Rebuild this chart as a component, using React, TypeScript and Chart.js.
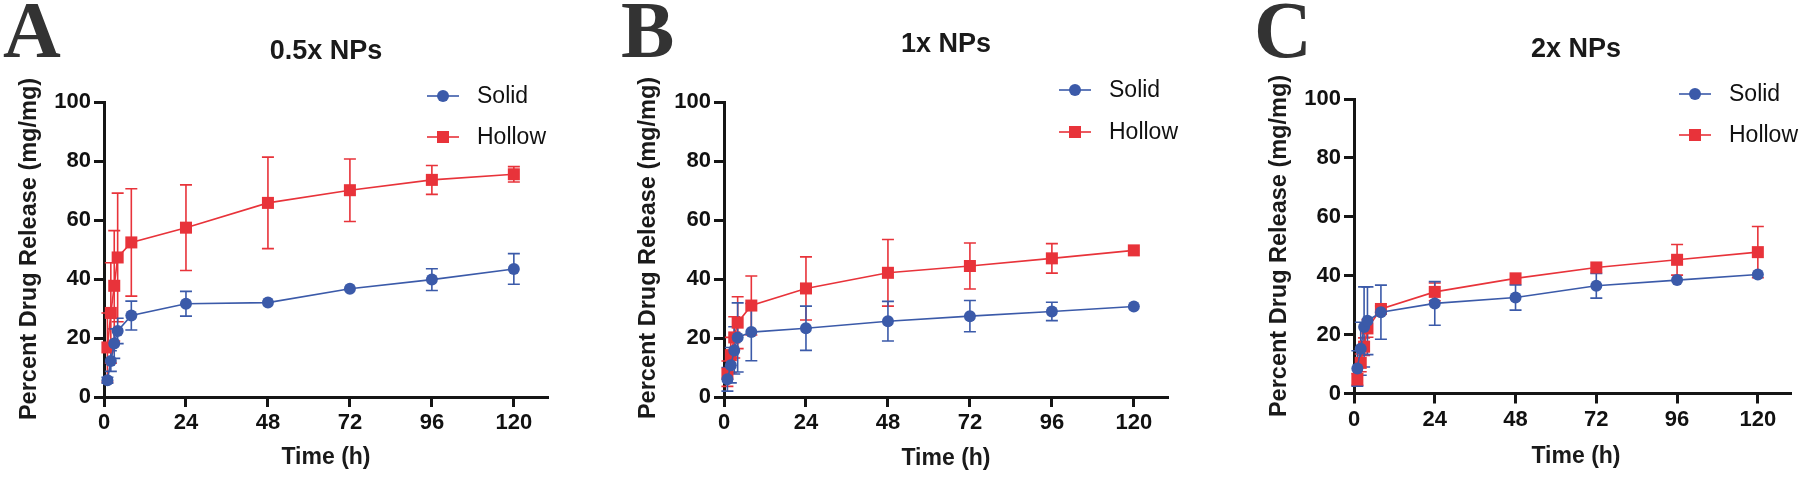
import React, { useEffect, useRef } from "react";
import { Chart, registerables } from "chart.js";

Chart.register(...registerables);

// ---- data ----
const timeHours = [1, 2, 3, 4, 8, 24, 48, 72, 96, 120];
const xTickValues = [0, 24, 48, 72, 96, 120];
const yTickValues = [0, 20, 40, 60, 80, 100];
const seriesNames = ["Solid", "Hollow"];
const panelLetters = ["A", "B", "C"];
const panelTitles = ["0.5x NPs", "1x NPs", "2x NPs"];
const xAxisTitle = "Time (h)";
const yAxisTitle = "Percent Drug Release (mg/mg)";

const solidA = [5.7, 12.2, 18.1, 22.4, 27.6, 31.6, 32.0, 36.7, 39.8, 43.4];
const solidAErr = [1, 3.5, 5, 4.3, 4.9, 4.2, 0, 0, 3.7, 5.2];
const hollowA = [16.8, 28.5, 37.7, 47.3, 52.4, 57.4, 65.8, 70.1, 73.6, 75.5];
const hollowAErr = [11.7, 17, 18.7, 21.8, 18.2, 14.5, 15.5, 10.6, 4.9, 2.6];

const solidB = [6.0, 10.8, 15.8, 20.2, 22.0, 23.3, 25.7, 27.4, 29.0, 30.7];
const solidBErr = [4, 6, 8, 11.7, 9.7, 7.5, 6.7, 5.3, 3.1, 0];
const hollowB = [7.9, 14.2, 20.2, 25.2, 31.0, 36.8, 42.1, 44.4, 47.0, 49.7];
const hollowBErr = [4.3, 6, 7, 8.8, 10, 10.7, 11.3, 7.8, 5, 0];

const solidC = [8.5, 15.2, 22.6, 24.7, 27.6, 30.6, 32.6, 36.6, 38.5, 40.4];
const solidCErr = [6, 9, 13.6, 11.5, 9.2, 7.4, 4.3, 4.2, 0, 0];
const hollowC = [4.8, 10.4, 15.9, 22.1, 28.7, 34.5, 39.1, 42.8, 45.4, 48.0];
const hollowCErr = [2, 3, 3, 3, 1, 3, 0, 0, 5.2, 8.7];

const panelSolid = [solidA, solidB, solidC];
const panelSolidErr = [solidAErr, solidBErr, solidCErr];
const panelHollow = [hollowA, hollowB, hollowC];
const panelHollowErr = [hollowAErr, hollowBErr, hollowCErr];

// ---- styles / layout ----
const BLUE = "#3b5aa9";
const RED = "#e8333a";
const AXIS = "#151515";
const SANS = "'Liberation Sans', Arial, sans-serif";
const SERIF = "'Liberation Serif', 'Times New Roman', serif";

const layouts = [
  { left: 0, axisX: 104, plotRight: 548, plotTop: 102, plotBottom: 397, titleY: 52, letterX: 3, legendX: 443, legendY1: 96, legendY2: 137, yTitleX: 30, yTitleY: 249, xTitleY: 458 },
  { left: 600, axisX: 724, plotRight: 1168, plotTop: 102, plotBottom: 397, titleY: 45, letterX: 621, legendX: 1075, legendY1: 90, legendY2: 132, yTitleX: 649, yTitleY: 248, xTitleY: 459 },
  { left: 1200, axisX: 1354, plotRight: 1798, plotTop: 99, plotBottom: 393.5, titleY: 50, letterX: 1254, legendX: 1695, legendY1: 94, legendY2: 135, yTitleX: 1280, yTitleY: 246, xTitleY: 457 },
];

const W = 600;
const H = 478;

function Panel({ idx }: { idx: number }) {
  const ref = useRef<HTMLCanvasElement | null>(null);
  useEffect(() => {
    const L = layouts[idx];
    const errs = [panelSolidErr[idx], panelHollowErr[idx]];
    const colors = [BLUE, RED];
    const decor = {
      id: "decor" + idx,
      beforeDatasetsDraw(chart: any) {
        const ctx = chart.ctx;
        const xs = chart.scales.x;
        const ys = chart.scales.y;
        ctx.save();
        for (let d = 1; d >= 0; d--) {
          const vals = chart.data.datasets[d].data;
          ctx.strokeStyle = colors[d];
          ctx.lineWidth = 1.6;
          vals.forEach((p: any, i: number) => {
            const e = errs[d][i];
            if (!e) return;
            const px = xs.getPixelForValue(p.x);
            const y1 = ys.getPixelForValue(p.y + e);
            const y2 = ys.getPixelForValue(p.y - e);
            ctx.beginPath();
            ctx.moveTo(px, y1);
            ctx.lineTo(px, y2);
            ctx.moveTo(px - 6, y1);
            ctx.lineTo(px + 6, y1);
            ctx.moveTo(px - 6, y2);
            ctx.lineTo(px + 6, y2);
            ctx.stroke();
          });
        }
        ctx.restore();
      },
      afterDraw(chart: any) {
        const ctx = chart.ctx;
        const ox = L.left;
        ctx.save();
        // panel letter
        ctx.fillStyle = "#333";
        ctx.font = `bold 80px ${SERIF}`;
        ctx.textAlign = "left";
        ctx.textBaseline = "alphabetic";
        ctx.fillText(panelLetters[idx], L.letterX - ox, 57);
        // title
        ctx.fillStyle = "#1a1a1a";
        ctx.font = `bold 27px ${SANS}`;
        ctx.textAlign = "center";
        ctx.textBaseline = "middle";
        const cx = (L.axisX + L.plotRight) / 2 - ox;
        ctx.fillText(panelTitles[idx], cx, L.titleY);
        // x title
        ctx.font = `bold 23px ${SANS}`;
        ctx.fillText(xAxisTitle, cx, L.xTitleY);
        // y title
        ctx.font = `bold 23.5px ${SANS}`;
        ctx.save();
        ctx.translate(L.yTitleX - ox, L.yTitleY);
        ctx.rotate(-Math.PI / 2);
        ctx.fillText(yAxisTitle, 0, 0);
        ctx.restore();
        // legend
        const lx = L.legendX - ox;
        const ly = [L.legendY1, L.legendY2];
        for (let d = 0; d < 2; d++) {
          ctx.strokeStyle = colors[d];
          ctx.fillStyle = colors[d];
          ctx.lineWidth = 1.6;
          ctx.beginPath();
          ctx.moveTo(lx - 16, ly[d]);
          ctx.lineTo(lx + 16, ly[d]);
          ctx.stroke();
          if (d === 0) {
            ctx.beginPath();
            ctx.arc(lx, ly[d], 6, 0, Math.PI * 2);
            ctx.fill();
          } else {
            ctx.fillRect(lx - 6, ly[d] - 6, 12, 12);
          }
          ctx.fillStyle = "#111";
          ctx.font = `23px ${SANS}`;
          ctx.textAlign = "left";
          ctx.textBaseline = "middle";
          ctx.fillText(seriesNames[d], lx + 34, ly[d] + 1);
        }
        ctx.restore();
      },
    };

    const mk = (vals: number[]) => timeHours.map((t, i) => ({ x: t, y: vals[i] }));
    const chart = new Chart(ref.current as HTMLCanvasElement, {
      type: "line",
      data: {
        datasets: [
          {
            label: seriesNames[0],
            data: mk(panelSolid[idx]),
            borderColor: BLUE,
            backgroundColor: BLUE,
            borderWidth: 1.6,
            pointStyle: "circle",
            pointRadius: 6,
            pointBorderWidth: 0,
            pointBackgroundColor: BLUE,
            clip: false,
          },
          {
            label: seriesNames[1],
            data: mk(panelHollow[idx]),
            borderColor: RED,
            backgroundColor: RED,
            borderWidth: 1.6,
            pointStyle: "rect",
            pointRadius: 8.5,
            pointBorderWidth: 0,
            pointBackgroundColor: RED,
            clip: false,
          },
        ],
      },
      options: {
        animation: false,
        responsive: false,
        devicePixelRatio: 1,
        layout: { padding: { top: L.plotTop, right: L.left + W - L.plotRight, left: 0, bottom: 0 } },
        plugins: { legend: { display: false }, tooltip: { enabled: false }, title: { display: false } },
        scales: {
          x: {
            type: "linear",
            min: 0,
            max: 130,
            afterFit: (s: any) => { s.height = H - L.plotBottom; },
            afterBuildTicks: (s: any) => { s.ticks = xTickValues.map((v) => ({ value: v })); },
            border: { display: true, color: AXIS, width: 3 },
            grid: { display: true, drawOnChartArea: false, drawTicks: true, tickLength: 10, tickWidth: 3, tickColor: AXIS },
            ticks: { color: "#111", font: { family: SANS, size: 22, weight: "bold" }, padding: 3, maxRotation: 0, autoSkip: false },
          },
          y: {
            type: "linear",
            min: 0,
            max: 100,
            afterFit: (s: any) => { s.width = L.axisX - L.left; },
            afterBuildTicks: (s: any) => { s.ticks = yTickValues.map((v) => ({ value: v })); },
            border: { display: true, color: AXIS, width: 3 },
            grid: { display: true, drawOnChartArea: false, drawTicks: true, tickLength: 10, tickWidth: 3, tickColor: AXIS },
            ticks: { color: "#111", font: { family: SANS, size: 22, weight: "bold" }, padding: 3 },
          },
        },
      },
      plugins: [decor],
    } as any);
    return () => chart.destroy();
  }, [idx]);
  const L = layouts[idx];
  return (
    <canvas
      ref={ref}
      width={W}
      height={H}
      style={{ position: "absolute", left: L.left, top: 0, width: W, height: H, display: "block" }}
    />
  );
}

export default function App() {
  useEffect(() => {
    document.body.style.margin = "0";
    document.body.style.background = "#fff";
  }, []);
  return (
    <div style={{ position: "relative", width: 1800, height: 478, background: "#fff", overflow: "hidden" }}>
      {[0, 1, 2].map((i) => (
        <Panel key={i} idx={i} />
      ))}
    </div>
  );
}
